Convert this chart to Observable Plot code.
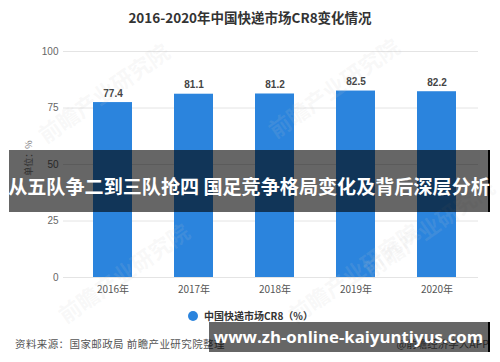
<!DOCTYPE html>
<html>
<head>
<meta charset="utf-8">
<script src="https://cdn.jsdelivr.net/npm/d3@7"></script>
<script src="https://cdn.jsdelivr.net/npm/@observablehq/plot@0.6"></script>
<style>
  html, body { margin: 0; padding: 0; background: #fff; }
  #wrap { position: relative; width: 500px; height: 362px; overflow: hidden; font-family: "Noto Sans CJK SC", "Liberation Sans", sans-serif; }
  #chart { position: absolute; left: 0; top: 0; }
  .abs { position: absolute; white-space: nowrap; }
  .wm { position: absolute; white-space: nowrap; font-weight: bold; font-size: 22px; color: rgba(200,200,200,0.13); transform: rotate(-35deg); transform-origin: left center; }
</style>
</head>
<body>
<div id="wrap">
  <div id="chart"></div>
</div>
<script>
// ---- data ----
const title = "2016-2020年中国快递市场CR8变化情况";
const years = ["2016年", "2017年", "2018年", "2019年", "2020年"];
const cr8 = [77.4, 81.1, 81.2, 82.5, 82.2];
const yTicks = [0, 25, 50, 75, 100];
const yUnit = "单位：%";
const legendLabel = "中国快递市场CR8（%）";
const sourceText = "资料来源：国家邮政局 前瞻产业研究院整理";
const creditText = "@前瞻经济学人APP";
const bannerText = "从五队争二到三队抢四 国足竞争格局变化及背后深层分析";
const urlText = "www.zh-online-kaiyuntiyus.com";
const watermark = "前瞻产业研究院";

const data = years.map((y, i) => ({year: y, value: cr8[i]}));
const barColor = "#2b84dd";

const chart = Plot.plot({
  width: 500,
  height: 362,
  marginTop: 51,
  marginBottom: 85,
  marginLeft: 63,
  marginRight: 22,
  style: {fontFamily: "'Liberation Sans', 'Noto Sans CJK SC', sans-serif", background: "transparent", color: "#666", overflow: "visible"},
  x: {type: "band", domain: years, range: [92, 456], paddingInner: 0.52, paddingOuter: 0, label: null},
  y: {domain: [0, 100], label: null},
  marks: [
    Plot.gridY(yTicks, {stroke: "#e4e4e4", strokeOpacity: 1}),
    Plot.barY(data, {x: "year", y: "value", fill: barColor}),
    Plot.text(data, {x: "year", y: "value", text: d => d.value.toFixed(1), dy: -9, fontWeight: "bold", fontSize: 10, fill: "#444"}),
    Plot.axisY(yTicks, {tickSize: 0, tickPadding: 5, fontSize: 10, fill: "#666", label: null}),
    Plot.axisX({tickSize: 0, tickPadding: 8, fontSize: 10, fill: "#555", label: null, fontFamily: "'Noto Sans CJK SC', sans-serif"})
  ]
});
document.getElementById("chart").appendChild(chart);

const wrap = document.getElementById("wrap");
function add(html, css, cls = "abs") {
  const d = document.createElement("div");
  d.className = cls;
  d.innerHTML = html;
  Object.assign(d.style, css);
  wrap.appendChild(d);
  return d;
}

// watermarks
[[40, 120], [270, 115], [60, 300], [290, 300], [365, 255]].forEach(([x, y]) => {
  add(watermark, {left: x + "px", top: y + "px"}, "wm");
});

// title
add(title, {left: "0px", width: "500px", top: "7px", textAlign: "center", fontSize: "13.5px", fontWeight: "bold", color: "#333"});

// y unit (rotated)
add(yUnit, {left: "28px", top: "158px", fontSize: "9px", color: "#777", transform: "translate(-50%,-50%) rotate(-90deg)"});

// legend
add("", {left: "188px", top: "311px", width: "10px", height: "10px", borderRadius: "50%", background: barColor});
add(legendLabel, {left: "204px", top: "309px", fontSize: "10px", fontWeight: "bold", color: "#333", lineHeight: "14px"});

// source & credit
add(sourceText, {left: "15px", top: "336px", fontSize: "10.5px", color: "#555", letterSpacing: "0.4px", lineHeight: "16px"});
add(creditText, {right: "11px", top: "336px", fontSize: "10.5px", color: "#666", lineHeight: "16px"});

// banner 1
add("", {left: "9px", top: "150px", width: "481px", height: "62px", background: "rgba(0,0,0,0.6)"});
add("", {left: "488px", top: "150px", width: "2px", height: "62px", background: "#000"});
add(bannerText, {left: "0px", width: "498px", top: "173px", textAlign: "center", fontSize: "19.1px", fontWeight: "bold", color: "#fff", lineHeight: "26px"});

// banner 2
add("", {left: "209px", top: "322px", width: "281px", height: "30px", background: "rgba(0,0,0,0.6)"});
add("", {left: "488px", top: "322px", width: "2px", height: "30px", background: "#000"});
add(urlText, {left: "209px", width: "279px", top: "325px", textAlign: "center", fontSize: "16.8px", fontWeight: "bold", color: "#fff", lineHeight: "24px", fontFamily: "'Open Sans', 'DejaVu Sans', sans-serif"});
</script>
</body>
</html>
